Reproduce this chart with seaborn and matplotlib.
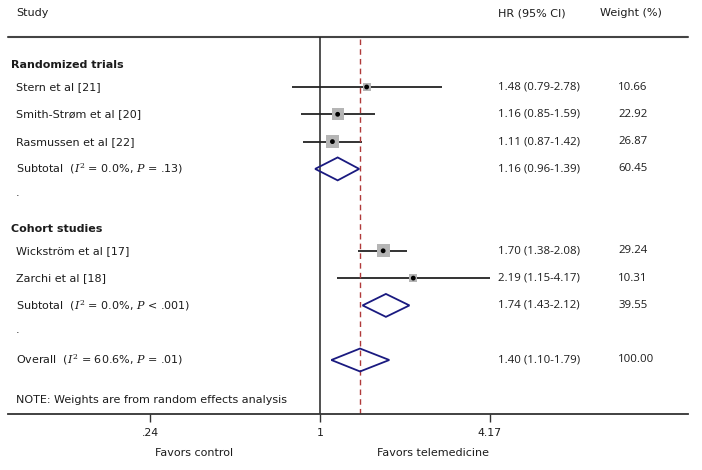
import numpy as np
import pandas as pd
import matplotlib
matplotlib.use("Agg")
import matplotlib.pyplot as plt
from matplotlib.patches import Polygon
import seaborn as sns

# ---------------- data ----------------
study_labels = ["Stern et al [21]", "Smith-Strøm et al [20]", "Rasmussen et al [22]",
                "Wickström et al [17]", "Zarchi et al [18]"]
study_rows = [0, 1, 2, 6, 7]
study_hr = [1.48, 1.16, 1.11, 1.70, 2.19]
study_lo = [0.79, 0.85, 0.87, 1.38, 1.15]
study_hi = [2.78, 1.59, 1.42, 2.08, 4.17]
study_w = [10.66, 22.92, 26.87, 29.24, 10.31]

pooled_labels = ["Subtotal", "Subtotal", "Overall"]
pooled_stats = [("0.0%", "= .13"), ("0.0%", "< .001"), ("60.6%", "= .01")]
pooled_rows = [3, 8, 10]
pooled_hr = [1.16, 1.74, 1.40]
pooled_lo = [0.96, 1.43, 1.10]
pooled_hi = [1.39, 2.12, 1.79]
pooled_w = [60.45, 39.55, 100.00]

group_labels = ["Randomized trials", "Cohort studies"]
group_rows = [-0.8, 5.2]
dot_rows = [4, 9]

xtick_vals = [0.24, 1, 4.17]
xtick_labels = [".24", "1", "4.17"]
overall_hr = 1.40

# ---------------- figure ----------------
sns.set_theme(style="white")
plt.rcParams["font.family"] = ["DejaVu Sans"]
plt.rcParams["mathtext.fontset"] = "dejavuserif"
plt.rcParams["text.color"] = "#1c1c1c"
plt.rcParams["xtick.color"] = "#1c1c1c"

W, H = 702, 470
fig = plt.figure(figsize=(W / 100, H / 100), dpi=100)
ax_l, ax_r, ax_t, ax_b = 8, 688, 37, 414
ax = fig.add_axes([ax_l / W, 1 - ax_b / H, (ax_r - ax_l) / W, (ax_b - ax_t) / H])

px_per_ln = 119.0
x0 = 320.0
xmin = np.exp((ax_l - x0) / px_per_ln)
xmax = np.exp((ax_r - x0) / px_per_ln)
ax.set_xscale("log")
ax.set_xlim(xmin, xmax)
row_px = 27.3
row0 = 87.0
ax.set_ylim((ax_b - row0) / row_px, (ax_t - row0) / row_px)

def xpx(p):
    return np.exp((p - x0) / px_per_ln)

# CI lines
ax.hlines(study_rows, study_lo, study_hi, color="#111111", lw=1.2, zorder=2)

df = pd.DataFrame({"hr": study_hr, "row": study_rows, "w": study_w})
df["size"] = 3.1 * df["w"]
sns.scatterplot(data=df, x="hr", y="row", size="size", sizes=(df["size"].min(), df["size"].max()),
                marker="s", color="#b5b5b5", edgecolor="none", legend=False, ax=ax, zorder=3)
sns.scatterplot(data=df, x="hr", y="row", s=12, color="black", edgecolor="none",
                legend=False, ax=ax, zorder=4)
ax.set_xlabel("")
ax.set_ylabel("")

for s in ["left", "right", "top"]:
    ax.spines[s].set_visible(False)
ax.spines["bottom"].set_color("#333333")
ax.spines["bottom"].set_linewidth(1.3)
ax.set_xticks(xtick_vals)
ax.set_xticklabels(xtick_labels)
ax.xaxis.set_minor_locator(matplotlib.ticker.NullLocator())
ax.tick_params(axis="x", direction="out", length=6, width=1, color="#333333",
               labelsize=7.8, pad=4, bottom=True)
ax.set_yticks([])
ax.grid(False)
ax.set_xlim(xmin, xmax)
ax.set_ylim((ax_b - row0) / row_px, (ax_t - row0) / row_px)

# top line
ax.axhline(ax.get_ylim()[1], color="#444444", lw=1.5, clip_on=False)
# null line
ax.axvline(1, color="#222222", lw=1.1, ymax=1.0)
# overall dashed
ax.plot([overall_hr, overall_hr], [ax.get_ylim()[0], ax.get_ylim()[1] + 0.08],
        color="#b03a3a", lw=1.0, ls=(0, (4, 3)))

# diamonds
for r, h, lo, hi in zip(pooled_rows, pooled_hr, pooled_lo, pooled_hi):
    d = 0.42
    poly = Polygon([[lo, r], [h, r - d], [hi, r], [h, r + d]], closed=True,
                   fill=False, edgecolor="#1a1a80", lw=1.3, zorder=3)
    ax.add_patch(poly)

# ---------------- text ----------------
lab_fs = 8.0
num_fs = 8.2
x_lab = xpx(16)
x_grp = xpx(11)
x_hr = xpx(498)
x_w = xpx(618)
numfont = ["Open Sans", "DejaVu Sans"]

yh = (13 - row0) / row_px
ax.text(x_lab, yh, "Study", fontsize=lab_fs, va="center", clip_on=False)
ax.text(x_hr, yh, "HR (95% CI)", fontsize=lab_fs, va="center", clip_on=False)
ax.text(xpx(600), yh, "Weight (%)", fontsize=lab_fs, va="center", clip_on=False)

for g, r in zip(group_labels, group_rows):
    ax.text(x_grp, r, g, fontsize=lab_fs, fontweight="bold", va="center")

for lab, r, h, lo, hi, w in zip(study_labels, study_rows, study_hr, study_lo, study_hi, study_w):
    ax.text(x_lab, r, lab, fontsize=lab_fs, va="center")
    ax.text(x_hr, r, f"{h:.2f} ({lo:.2f}-{hi:.2f})", fontsize=num_fs, va="center", family=numfont)
    ax.text(x_w, r, f"{w:.2f}", fontsize=num_fs, va="center", family=numfont)

for lab, st, r, h, lo, hi, w in zip(pooled_labels, pooled_stats, pooled_rows, pooled_hr,
                                    pooled_lo, pooled_hi, pooled_w):
    txt = lab + r"  ($I^2$ = " + st[0] + r", $P$ " + st[1] + ")"
    ax.text(x_lab, r, txt, fontsize=lab_fs, va="center")
    ax.text(x_hr, r, f"{h:.2f} ({lo:.2f}-{hi:.2f})", fontsize=num_fs, va="center", family=numfont)
    ax.text(x_w, r, f"{w:.2f}", fontsize=num_fs, va="center", family=numfont)

for r in dot_rows:
    ax.text(x_lab, r - 0.1, ".", fontsize=lab_fs, va="center")

ax.text(x_lab, (400 - row0) / row_px, "NOTE: Weights are from random effects analysis",
        fontsize=lab_fs, va="center")

yfav = (453 - row0) / row_px
ax.text(xpx(194), yfav, "Favors control", fontsize=lab_fs, va="center", ha="center", clip_on=False)
ax.text(xpx(433), yfav, "Favors telemedicine", fontsize=lab_fs, va="center", ha="center", clip_on=False)

fig.savefig("out.png", dpi=100)
